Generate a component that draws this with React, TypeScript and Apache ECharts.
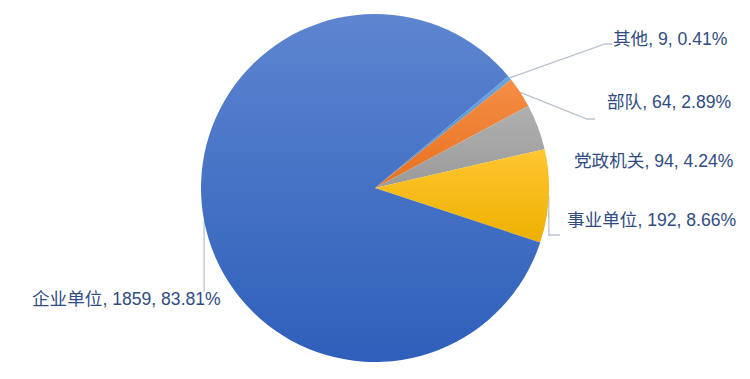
import React, { useEffect, useRef } from "react";
import * as echarts from "echarts";

// Data (clockwise from the top-right boundary)
const categories = ["其他", "部队", "党政机关", "事业单位", "企业单位"];
const counts = [9, 64, 94, 192, 1859];

// Styles (kept separate from the data)
const sliceColors: [string, string][] = [
  ["#6AA6DD", "#4E8FCC"],
  ["#F58E45", "#E8711F"],
  ["#B0B0B0", "#9A9A9A"],
  ["#FFC630", "#EDB000"],
  ["#5D85D0", "#2E5FBA"],
];

// label placement: left x, centre y, leader mode
const labelPlace = [
  { x: 613, y: 39, line: "diag", ey: 44, ex: 612, bx: 605 },
  { x: 607, y: 102, line: "diag", ey: 119, ex: 595, bx: 587 },
  { x: 574, y: 161, line: "none", ey: 0, ex: 0, bx: 0 },
  { x: 567, y: 220, line: "down", ey: 235, ex: 560, bx: 0 },
  { x: 32, y: 299, line: "down", ey: 292, ex: 0, bx: 0 },
];

const TEXT = "#314C82";

export default function App() {
  const ref = useRef<HTMLDivElement>(null);
  useEffect(() => {
    if (!ref.current) return;
    const chart = echarts.init(ref.current, undefined, { renderer: "svg" });
    const total = counts.reduce((a, b) => a + b, 0);
    const data = categories.map((name, i) => ({
      name,
      value: counts[i],
      itemStyle: {
        color: new echarts.graphic.LinearGradient(0, 0, 0, 1, [
          { offset: 0, color: sliceColors[i][0] },
          { offset: 1, color: sliceColors[i][1] },
        ]),
      },
      labelLine: { show: labelPlace[i].line !== "none" },
    }));
    chart.setOption({
      animation: false,
      backgroundColor: "#ffffff",
      series: [
        {
          type: "pie",
          center: [375, 188],
          radius: 174,
          startAngle: 40,
          clockwise: true,
          avoidLabelOverlap: false,
          data,
          itemStyle: { borderWidth: 0 },
          label: {
            show: true,
            position: "outside",
            color: TEXT,
            fontSize: 17.6,
            fontFamily: "'Liberation Sans', 'Noto Sans CJK SC', sans-serif",
            formatter: (p: any) =>
              `${p.name}, ${p.value}, ${((p.value / total) * 100).toFixed(2)}%`,
          },
          labelLine: {
            show: true,
            length: 10,
            length2: 10,
            lineStyle: { color: "#B9C3D0", width: 1.3 },
          },
          labelLayout: (params: any) => {
            const lp = labelPlace[params.dataIndex];
            const res: any = {
              x: lp.x,
              y: lp.y,
              align: "left",
              verticalAlign: "middle",
            };
            const pts = params.labelLinePoints;
            if (pts && pts.length && lp.line !== "none") {
              const s = pts[0];
              if (lp.line === "diag") {
                res.labelLinePoints = [s, [lp.bx, lp.ey], [lp.ex, lp.ey]];
              } else {
                const endX = lp.ex || s[0];
                res.labelLinePoints = [s, [s[0], lp.ey], [endX, lp.ey]];
              }
            }
            return res;
          },
        },
      ],
    });
    return () => chart.dispose();
  }, []);
  return (
    <div
      ref={ref}
      style={{ position: "fixed", left: 0, top: 0, width: 750, height: 379 }}
    />
  );
}
